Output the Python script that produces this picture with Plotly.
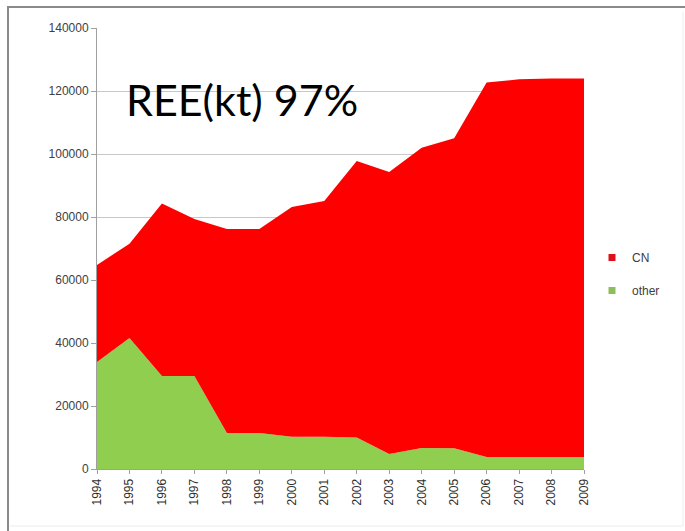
import plotly.graph_objects as go

years = list(range(1994, 2010))
other = [34000, 41600, 29500, 29500, 11400, 11400, 10200, 10200, 10000, 4800, 6700, 6600, 3800, 3800, 3800, 3800]
total = [64800, 71500, 84300, 79400, 76200, 76200, 83200, 85100, 97800, 94300, 102000, 105000, 122700, 123700, 124000, 124000]
cn = [t - o for t, o in zip(total, other)]
ytick_vals = [0, 20000, 40000, 60000, 80000, 100000, 120000, 140000]
ytick_text = [str(v) for v in ytick_vals]

RED = "#ff0000"
GREEN = "#8fce4f"

fig = go.Figure()
fig.add_trace(go.Scatter(x=years, y=other, name="other", stackgroup="a", mode="none",
                         fillcolor=GREEN, line=dict(width=0), showlegend=False))
fig.add_trace(go.Scatter(x=years, y=cn, name="CN", stackgroup="a", mode="none",
                         fillcolor=RED, line=dict(width=0), showlegend=False))
# legend entries with small square markers
fig.add_trace(go.Scatter(x=[None], y=[None], name="CN", mode="markers", legendgroup="g1",
                         marker=dict(symbol="square", size=7, color="#e0101a")))
fig.add_trace(go.Scatter(x=[None], y=[None], name="other", mode="markers", legendgroup="g2",
                         marker=dict(symbol="square", size=7, color="#8cbf5a")))

W, H = 685, 531
L, R, T, B = 97, 101, 28, 62
pw, ph = W - L - R, H - T - B

def px(x):
    return (x - L) / pw

def py(y):
    return (H - B - y) / ph

# outer frame: dark top/left, faint right/bottom
fig.add_shape(type="line", xref="paper", yref="paper", x0=px(7), x1=px(685), y0=py(7), y1=py(7),
              line=dict(color="#8a8a8a", width=2))
fig.add_shape(type="line", xref="paper", yref="paper", x0=px(8), x1=px(8), y0=py(7), y1=py(531),
              line=dict(color="#8a8a8a", width=2))
fig.add_shape(type="line", xref="paper", yref="paper", x0=px(683), x1=px(683), y0=py(12), y1=py(526),
              line=dict(color="#ececec", width=1))
fig.add_shape(type="line", xref="paper", yref="paper", x0=px(10), x1=px(683), y0=py(526), y1=py(526),
              line=dict(color="#ececec", width=1))

fig.add_annotation(text="REE(kt) 97%", xref="paper", yref="paper", x=px(124), y=py(99),
                   xanchor="left", yanchor="middle", showarrow=False,
                   font=dict(family="Lato", size=43, color="#000000"))

fig.update_layout(
    width=W, height=H,
    margin=dict(l=L, r=R, t=T, b=B),
    paper_bgcolor="white", plot_bgcolor="white",
    font=dict(family="Liberation Sans", size=12, color="#404040"),
    legend=dict(x=px(592), y=py(243), xanchor="left", yanchor="top",
                traceorder="grouped", font=dict(size=12, color="#404040"),
                itemwidth=30, tracegroupgap=14),
    showlegend=True,
)
fig.update_xaxes(range=[1994, 2009], tickvals=years, ticktext=[str(y) for y in years],
                 tickangle=-90, showgrid=False, showline=True, linecolor="#a0a0a0",
                 ticks="outside", ticklen=4, tickcolor="#a0a0a0", zeroline=False,
                 tickfont=dict(size=12, color="#303030"))
fig.update_yaxes(range=[0, 140000], tickvals=ytick_vals, ticktext=ytick_text,
                 showgrid=True, gridcolor="#c8c8c8",
                 showline=True, linecolor="#a0a0a0", ticks="outside", ticklen=5,
                 tickcolor="#a0a0a0", zeroline=False, tickfont=dict(size=12, color="#404040"))

fig.write_html("out.html")
